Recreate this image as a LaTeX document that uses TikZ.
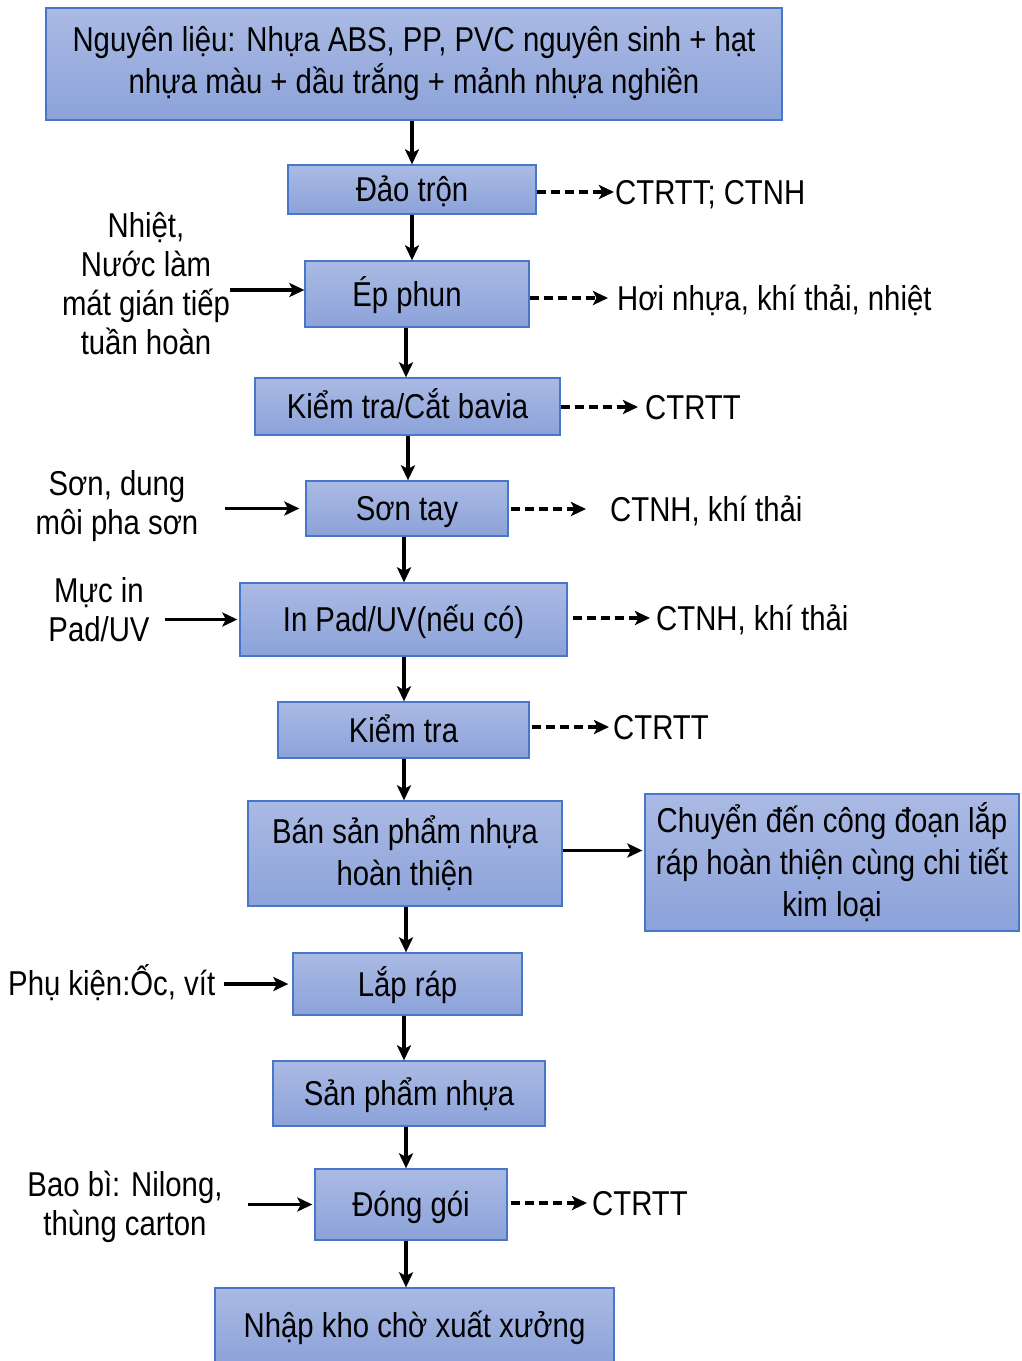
\documentclass[tikz,border=0pt]{standalone}
\usepackage{fontspec}
\setmainfont[FakeStretch=0.85]{Liberation Sans}
\usetikzlibrary{arrows.meta}
\definecolor{boxtop}{RGB}{170,186,228}
\definecolor{boxbot}{RGB}{140,162,217}
\definecolor{boxline}{RGB}{72,118,200}
\begin{document}
\begin{tikzpicture}[x=1pt,y=-1pt,
  stepbox/.style={draw=boxline, line width=1.3pt, top color=boxtop, bottom color=boxbot,
    inner sep=0pt, align=center, font=\fontsize{34.5}{42}\selectfont},
  one/.style={text height=31pt, text depth=6.3pt},
  lab/.style={inner sep=0pt, align=center, font=\fontsize{34.5}{39}\selectfont},
  outlab/.style={lab, anchor=west, text height=31pt, text depth=6.3pt},
  arr/.style={line width=3.2pt, -{Stealth[length=15pt,width=14pt,inset=3.5pt]}},
  dasharr/.style={arr, dash pattern=on 9pt off 5pt}]
\useasboundingbox (0,0) rectangle (1022,1361);

% process steps
\node[stepbox, minimum width=736pt, minimum height=112pt] (b1) at (414,64)
  {Nguyên liệu: Nhựa ABS, PP, PVC nguyên sinh + hạt\\nhựa màu + dầu trắng + mảnh nhựa nghiền};
\node[stepbox, one, minimum width=248pt, minimum height=49pt] (b2) at (412,189.5) {Đảo trộn};
\node[stepbox, one, minimum width=224pt, minimum height=66pt] (b3) at (417,294) {Ép phun\hspace*{20pt}};
\node[stepbox, one, minimum width=305pt, minimum height=57pt] (b4) at (407.5,406.5) {Kiểm tra/Cắt bavia};
\node[stepbox, one, minimum width=202pt, minimum height=55pt] (b5) at (407,508.5) {Sơn tay};
\node[stepbox, one, minimum width=327pt, minimum height=73pt] (b6) at (403.5,619.5) {In Pad/UV(nếu có)};
\node[stepbox, one, minimum width=251pt, minimum height=56pt] (b7) at (403.5,730) {Kiểm tra};
\node[stepbox, minimum width=314pt, minimum height=105pt] (b8) at (405,853.5)
  {Bán sản phẩm nhựa\\hoàn thiện};
\node[stepbox, minimum width=374pt, minimum height=137pt] (b9) at (832,862.5)
  {Chuyển đến công đoạn lắp\\ráp hoàn thiện cùng chi tiết\\kim loại};
\node[stepbox, one, minimum width=229pt, minimum height=62pt] (b10) at (407.5,984) {Lắp ráp};
\node[stepbox, one, minimum width=272pt, minimum height=65pt] (b11) at (409,1093.5) {Sản phẩm nhựa};
\node[stepbox, one, minimum width=192pt, minimum height=71pt] (b12) at (411,1204.5) {Đóng gói};
\node[stepbox, one, minimum width=399pt, minimum height=75pt] (b13) at (414.5,1325.5) {Nhập kho chờ xuất xưởng};

% main flow
\draw[arr] ([xshift=-2pt]b1.south) -- ([xshift=-2pt]b1.south |- b2.north);
\draw[arr] (b2.south) -- (b2.south |- b3.north);
\draw[arr] ([xshift=-11pt]b3.south) -- ([xshift=-11pt]b3.south |- b4.north);
\draw[arr] ([xshift=0.5pt]b4.south) -- ([xshift=0.5pt]b4.south |- b5.north);
\draw[arr] ([xshift=-3pt]b5.south) -- ([xshift=-3pt]b5.south |- b6.north);
\draw[arr] ([xshift=0.5pt]b6.south) -- ([xshift=0.5pt]b6.south |- b7.north);
\draw[arr] ([xshift=0.5pt]b7.south) -- ([xshift=0.5pt]b7.south |- b8.north);
\draw[arr] ([xshift=1pt]b8.south) -- ([xshift=1pt]b8.south |- b10.north);
\draw[arr] ([xshift=-3.5pt]b10.south) -- ([xshift=-3.5pt]b10.south |- b11.north);
\draw[arr] ([xshift=-3pt]b11.south) -- ([xshift=-3pt]b11.south |- b12.north);
\draw[arr] ([xshift=-5pt]b12.south) -- ([xshift=-5pt]b12.south |- b13.north);
\draw[arr, shorten >=2pt] ([yshift=3pt]b8.east) -- ([yshift=3pt]b8.east -| b9.west);

% outputs
\node[outlab] (o2) at (615,192) {CTRTT; CTNH};
\node[outlab] (o3) at (617,298) {Hơi nhựa, khí thải, nhiệt};
\node[outlab] (o4) at (645,407) {CTRTT};
\node[outlab] (o5) at (610,509) {CTNH, khí thải};
\node[outlab] (o6) at (656,618) {CTNH, khí thải};
\node[outlab] (o7) at (613,727) {CTRTT};
\node[outlab] (o12) at (592,1203) {CTRTT};

\draw[dasharr, shorten >=1pt] (b2.east |- o2.west) -- (o2.west);
\draw[dasharr, shorten >=9pt] (b3.east |- o3.west) -- (o3.west);
\draw[dasharr, shorten >=7pt] (b4.east |- o4.west) -- (o4.west);
\draw[dasharr, shorten <=2pt, shorten >=24pt] (b5.east |- o5.west) -- (o5.west);
\draw[dasharr, shorten <=5pt, shorten >=6pt] (b6.east |- o6.west) -- (o6.west);
\draw[dasharr, shorten <=2pt, shorten >=4pt] (b7.east |- o7.west) -- (o7.west);
\draw[dasharr, shorten <=3pt, shorten >=5pt] (b12.east |- o12.west) -- (o12.west);

% inputs
\node[lab] (i3) at (146,283.5) {Nhiệt,\\Nước làm\\mát gián tiếp\\tuần hoàn};
\node[lab] (i5) at (117,506.5) {Sơn, dung\\môi pha sơn};
\node[lab] (i6) at (99,610) {Mực in\\Pad/UV};
\node[outlab] (i10) at (8,983) {Phụ kiện:Ốc, vít};
\node[lab] (i12) at (125,1206.5) {Bao bì: Nilong,\\thùng carton};

\draw[arr] ([yshift=4pt]b3.west -| i3.east) -- ([yshift=4pt]b3.west);
\draw[arr, shorten <=26pt, shorten >=6pt] (i5.east |- b5.west) -- (b5.west);
\draw[arr, shorten <=15pt, shorten >=2pt] (i6.east |- b6.west) -- (b6.west);
\draw[arr, shorten <=9pt, shorten >=4pt] (i10.east |- b10.west) -- (b10.west);
\draw[arr, shorten <=25pt, shorten >=2pt] (i12.east |- b12.west) -- (b12.west);
\end{tikzpicture}
\end{document}
